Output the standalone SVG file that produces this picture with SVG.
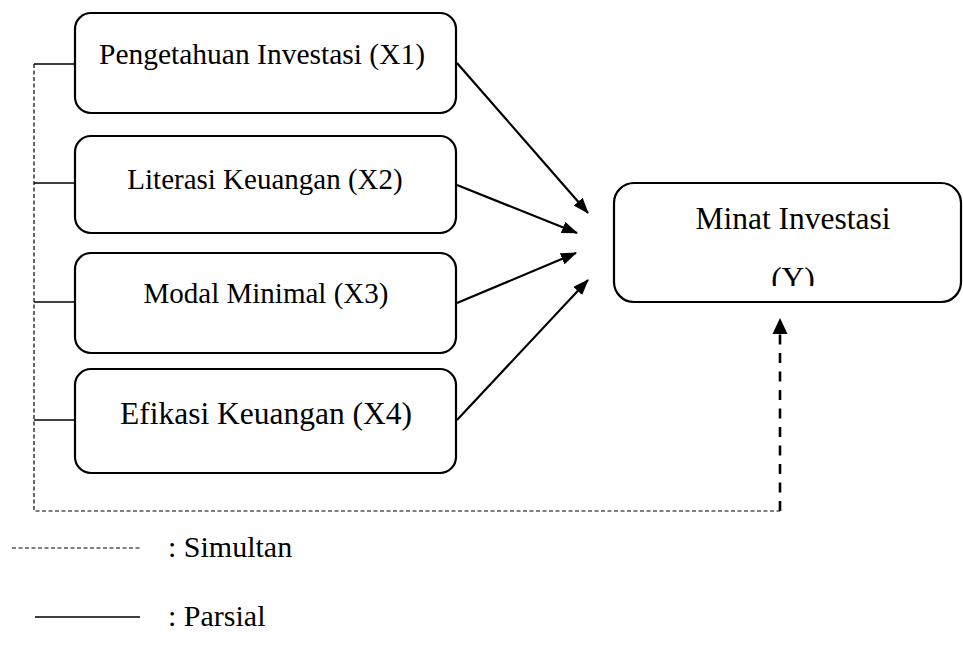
<svg xmlns="http://www.w3.org/2000/svg" width="963" height="653" viewBox="0 0 963 653">
<style>
.box{fill:#fff;stroke:#000;stroke-width:2.2}
text{font-family:'Liberation Serif','Times New Roman',serif;fill:#000}
.t{text-anchor:middle}
.solid{stroke:#000;stroke-width:2.2;fill:none}
.stub{stroke:#000;stroke-width:1.3;fill:none}
.thin{stroke:#000;stroke-width:1.2;fill:none;stroke-dasharray:4 2.5}
.bold{stroke:#000;stroke-width:2.6;fill:none;stroke-dasharray:10 8.5}
</style>
<defs>
<marker id="ah" markerWidth="16" markerHeight="12" refX="15" refY="6" orient="auto" markerUnits="userSpaceOnUse">
<path d="M0,0 L16,6 L0,12 Z" fill="#000"/>
</marker>
<clipPath id="clipY"><rect x="600" y="170" width="363" height="116"/></clipPath>
</defs>
<rect width="963" height="653" fill="#fff"/>
<g id="connectors">
<line class="solid" x1="457" y1="63" x2="588" y2="213" marker-end="url(#ah)"/>
<line class="solid" x1="457" y1="185" x2="577" y2="233" marker-end="url(#ah)"/>
<line class="solid" x1="457" y1="303" x2="576" y2="253" marker-end="url(#ah)"/>
<line class="solid" x1="457" y1="420" x2="588" y2="280" marker-end="url(#ah)"/>
<line class="stub" x1="34" y1="64" x2="75" y2="64"/>
<line class="stub" x1="34" y1="183" x2="75" y2="183"/>
<line class="stub" x1="34" y1="302" x2="75" y2="302"/>
<line class="stub" x1="34" y1="420" x2="75" y2="420"/>
<polyline class="thin" points="34,64 34,511 780,511"/>
<line class="bold" x1="780" y1="511" x2="780" y2="332"/>
<path d="M780,318 L787.5,334 L772.5,334 Z" fill="#000"/>
</g>
<g id="x1">
<rect class="box" x="75" y="13" width="381" height="100" rx="16"/>
<text class="t" x="262" y="64" font-size="29.5">Pengetahuan Investasi (X1)</text>
</g>
<g id="x2">
<rect class="box" x="75" y="136" width="381" height="97" rx="16"/>
<text class="t" x="265" y="189" font-size="29">Literasi Keuangan (X2)</text>
</g>
<g id="x3">
<rect class="box" x="75" y="253" width="381" height="100" rx="16"/>
<text class="t" x="266" y="303" font-size="29">Modal Minimal (X3)</text>
</g>
<g id="x4">
<rect class="box" x="75" y="369" width="381" height="104" rx="16"/>
<text class="t" x="266" y="424" font-size="31.5">Efikasi Keuangan (X4)</text>
</g>
<g id="y">
<rect class="box" x="614" y="183" width="347" height="119" rx="20"/>
<text class="t" x="793" y="229" font-size="31.5">Minat Investasi</text>
<text class="t" x="793" y="289" font-size="31.5" clip-path="url(#clipY)">(Y)</text>
</g>
<g id="legend">
<line class="thin" x1="12" y1="548" x2="140" y2="548" style="stroke-width:1"/>
<text x="168" y="557" font-size="30">: Simultan</text>
<line class="stub" x1="35" y1="617" x2="140" y2="617"/>
<text x="168" y="626" font-size="30">: Parsial</text>
</g>
</svg>
